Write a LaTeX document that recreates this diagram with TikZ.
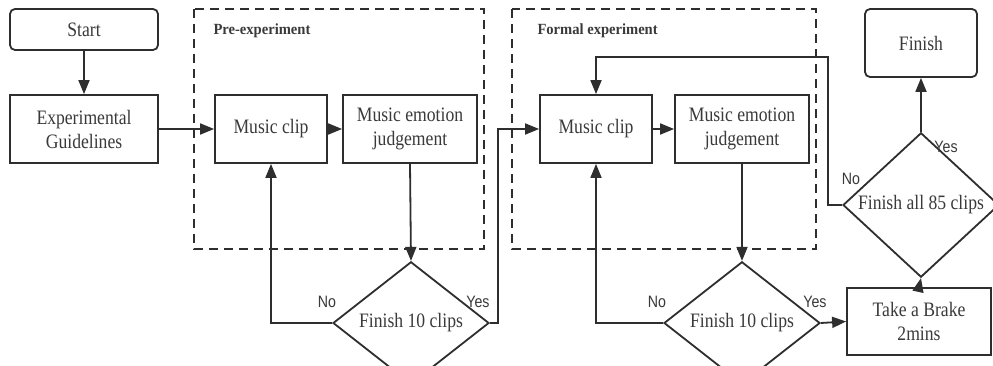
\documentclass[tikz,border=0pt]{standalone}
\usepackage{fontspec}
\setmainfont{Liberation Serif}[FakeStretch=0.86]
\newfontfamily\labfont{Liberation Sans}[FakeStretch=0.86]
\newfontfamily\grpfont{Liberation Serif}[FakeStretch=0.94]
\usetikzlibrary{arrows.meta,shapes.geometric}
\definecolor{ink}{HTML}{2E2E2E}
\definecolor{txt}{HTML}{3A3A3A}
\tikzset{
  proc/.style={draw=ink, line width=1.8pt, text=txt, align=center, inner sep=2pt,
    font=\fontsize{20.5}{24}\selectfont},
  dec/.style={draw=ink, line width=1.8pt, shape=diamond, text=txt, inner sep=0pt,
    minimum width=156pt, minimum height=90pt, font=\fontsize{20.5}{24}\selectfont},
  arr/.style={draw=ink, line width=1.8pt, -{Triangle[length=14pt,width=11pt]}},
  grp/.style={draw=ink, line width=1.8pt, dash pattern=on 9pt off 6pt},
  grplab/.style={text=txt, font=\grpfont\fontsize{15.5}{18}\selectfont\bfseries, anchor=west},
  yn/.style={text=txt, font=\labfont\fontsize{16.5}{19}\selectfont}
}
\begin{document}
\begin{tikzpicture}[x=1pt,y=-1pt]
\useasboundingbox (0,0) rectangle (993,366);
\fill[white] (0,0) rectangle (993,366);
% group boxes
\draw[grp] (194,9) rectangle (484,249);
\draw[grp] (512,9) rectangle (816,249);
\node[grplab] (pre) at (210,31) {Pre-experiment};
\node[grplab] (formal) at (534,31) {Formal experiment};
% nodes
\node[proc, rounded corners=5pt, minimum width=148pt, minimum height=41pt] (start) at (84,29.5) {Start};
\node[proc, minimum width=148pt, minimum height=68pt] (guide) at (84,129) {Experimental\\Guidelines};
\node[proc, minimum width=112pt, minimum height=68pt] (mc1) at (271,129) {Music clip};
\node[proc, minimum width=134pt, minimum height=68pt] (mej1) at (410,129) {Music emotion\\judgement};
\node[proc, minimum width=112pt, minimum height=68pt] (mc2) at (596,129) {Music clip};
\node[proc, minimum width=134pt, minimum height=68pt] (mej2) at (742,129) {Music emotion\\judgement};
\node[dec] (d1) at (411,323) {Finish 10 clips};
\node[dec] (d2) at (742,323) {Finish 10 clips};
\node[dec, minimum height=88pt] (d3) at (921,205) {Finish all 85 clips};
\node[proc, minimum width=144pt, minimum height=67pt] (brake) at (919,321.5) {Take a Brake\\2mins};
\node[proc, rounded corners=5pt, minimum width=112pt, minimum height=68pt] (finish) at (921,43) {Finish};
% connectors
\draw[arr] (start.south) -- (guide.north);
\draw[arr] (guide.east) -- (mc1.west);
\draw[arr] (mc1.east) -- (mej1.west);
\draw[arr] (mej1.south) -- (d1.north);
\draw[arr] (d1.west) -| (mc1.south);
\draw[arr] (d1.east) -- ++(8,0) |- (mc2.west);
\draw[arr] (mc2.east) -- (mej2.west);
\draw[arr] (mej2.south) -- (d2.north);
\draw[arr] (d2.west) -| (mc2.south);
\draw[arr] (d2.east) -- (brake.west);
\draw[arr] (brake.north) -- (d3.south);
\draw[arr] (d3.north) -- (finish.south);
\coordinate (loop) at (828,57);
\draw[arr] (d3.west) -| (loop) -| (mc2.north);
% labels
\node[yn] (n1) at (327,302) {No};
\node[yn] (y1) at (478,302) {Yes};
\node[yn] (n2) at (657,302) {No};
\node[yn] (y2) at (815,302) {Yes};
\node[yn] (n3) at (851,179) {No};
\node[yn] (y3) at (946,147) {Yes};
\end{tikzpicture}
\end{document}
